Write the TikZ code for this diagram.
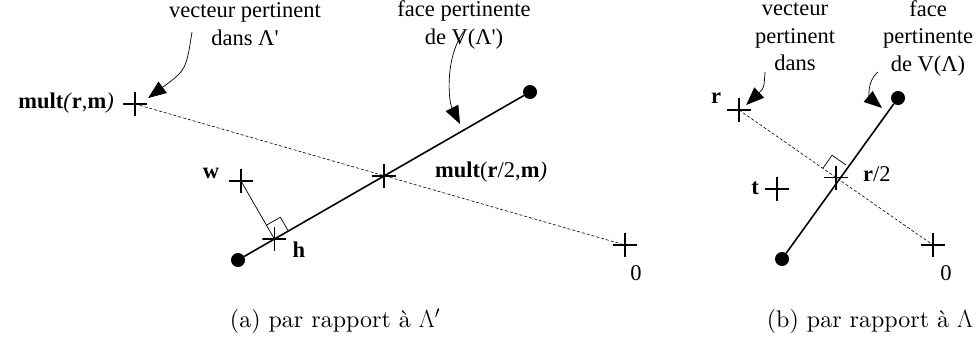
\documentclass[tikz,border=0pt]{standalone}
\usepackage{fontspec}
\newfontfamily\timesfont{Liberation Serif}
\newfontfamily\capfont{lmroman10-regular}[Extension=.otf]
\usetikzlibrary{arrows.meta, calc}

\tikzset{
  lab/.style={font=\timesfont\fontsize{22.5}{27.5}\selectfont, align=center, inner sep=0pt},
  capt/.style={font=\capfont\fontsize{24}{28}\selectfont, inner sep=0pt},
  plus/.style={minimum size=24pt, inner sep=0pt,
    path picture={\draw[line width=1.4pt] (path picture bounding box.west) -- (path picture bounding box.east)
      (path picture bounding box.north) -- (path picture bounding box.south);}},
  dot/.style={circle, fill, inner sep=0pt, minimum size=14pt},
  face/.style={line width=1.6pt},
  link/.style={densely dashed, line width=0.6pt},
  point/.style={-{Triangle[length=18pt,width=14pt]}, line width=0.7pt}
}

\begin{document}
\begin{tikzpicture}[x=1pt,y=-1pt]
\useasboundingbox (0,0) rectangle (979,362);
\node[dot] (a1) at (238,260) {};
\node[dot] (a2) at (530,92) {};
\node[plus] (rm) at (135,104) {};
\node[plus] (zeroa) at (625,245) {};
\node[plus] (mida) at ($(a1)!0.5!(a2)$) {};
\node[plus] (w) at (241,181) {};
\coordinate (hp) at ($(a1)!(w.center)!(a2)$);
\node[plus] (h) at (hp) {};
\draw[face] (a1) -- (a2);
\draw[link] (rm.center) -- (zeroa.center);
\draw[line width=0.7pt] (w.center) -- (h.center);
\draw[line width=0.7pt] ($(h.center)!16pt!(w.center)$) -- ($(h.center)!16pt!(w.center)!16pt!-90:(w.center)$) -- ($(h.center)!16pt!(a2)$);
\node[lab, anchor=east] (lrm) at (114,103) {\textbf{mult}\textit{(}\textbf{r},\textbf{m}\textit{)}};
\node[lab] (lw) at (211,173) {\textbf{w}};
\node[lab] (lh) at (299,250) {\textbf{h}};
\node[lab, anchor=west] (lmid) at (435,172) {\textbf{mult}(\textbf{r}/2,\textbf{m}\textit{)}};
\node[lab] (lza) at (636,273) {0};
\node[lab] (vpa) at (245,24) {vecteur pertinent\\dans Λ'};
\node[lab] (fpa) at (464,25) {face pertinente\\de V(Λ')};
\coordinate (vpas) at (192,32);
\coordinate (fpas) at (465,30);
\draw[point] (vpas) .. controls (186,70) .. ([shift={(1,-6)}]rm.east);
\draw[point] (fpas) .. controls (445,55) and (448,100) .. (460,124);

\node[dot] (b1) at (782,259) {};
\node[dot] (b2) at (898,98) {};
\node[plus] (r) at (739,110) {};
\node[plus] (zerob) at (933,245) {};
\node[plus] (midb) at ($(r)!0.5!(zerob)$) {};
\node[plus] (t) at (777,189) {};
\draw[face] (b1) -- (b2);
\draw[link] (r.center) -- (zerob.center);
\draw[line width=0.7pt] ($(midb.center)!16pt!(r.center)$) -- ($(midb.center)!16pt!(r.center)!16pt!-90:(r.center)$) -- ($(midb.center)!16pt!(b2)$);
\node[lab] (lr) at (716,98) {\textbf{r}};
\node[lab, anchor=east] (lt) at (759,188) {\textbf{t}};
\node[lab, anchor=west] (lmidb) at (863,174) {\textbf{r}/2};
\node[lab] (lzb) at (946,273) {0};
\node[lab] (vpb) at (795,37) {vecteur\\pertinent\\dans};
\node[lab] (fpb) at (928,38) {face\\pertinente\\de V(Λ)};
\coordinate (vpbs) at (765,72);
\coordinate (fpbs) at (878,72);
\draw[point] (vpbs) .. controls (764,88) .. ([shift={(-5,-5)}]r.east);
\draw[point] (fpbs) .. controls (866,82) and (870,98) .. (882,108);

\node[capt] (capa) at (335,321) {(a) par rapport à $\Lambda'$};
\node[capt] (capb) at (870,321) {(b) par rapport à $\Lambda$};
\end{tikzpicture}
\end{document}
